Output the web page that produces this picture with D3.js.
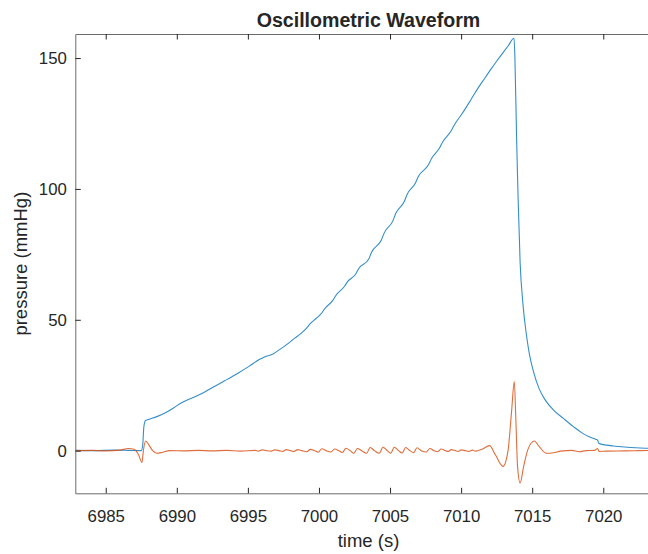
<!DOCTYPE html>
<html>
<head>
<meta charset="utf-8">
<script src="https://cdn.jsdelivr.net/npm/d3@7"></script>
<style>
  body { margin: 0; background: #fff; }
  text { font-family: Arial, "Liberation Sans", Helvetica, sans-serif; fill: #262626; }
</style>
</head>
<body>
<script>
var width = 648;
var height = 554;
var margin = {top: 34, left: 75.3, right: -13.7, bottom: 60.7};
var w = width - margin.left - margin.right;
var h = height - margin.top - margin.bottom;

// cuff pressure (blue)
var cuffTime = [6982.9, 6984.2, 6985.6, 6986.6, 6987.5, 6987.6, 6987.68, 6987.8, 6988.0, 6988.6,
  6989.2, 6989.8, 6990.3, 6990.7, 6991.2, 6991.9, 6992.6, 6993.4, 6994.3, 6995.1,
  6995.8, 6996.2, 6996.7, 6997.2, 6997.7, 6998.3, 6998.7, 6999.1, 6999.4, 6999.8,
  7000.2, 7000.4, 7001.0, 7001.2, 7001.8, 7002.0, 7002.6, 7002.8, 7003.5, 7003.7,
  7004.4, 7004.6, 7005.2, 7005.4, 7006.0, 7006.2, 7006.8, 7007.0, 7007.7, 7007.9,
  7008.5, 7008.7, 7009.3, 7009.5, 7010.1, 7010.7, 7011.2, 7011.7, 7012.1, 7012.5,
  7012.9, 7013.3, 7013.72, 7013.78, 7013.9, 7014.0, 7014.15, 7014.35, 7014.6, 7014.8,
  7015.1, 7015.5, 7015.9, 7016.5, 7017.2, 7017.9, 7018.5, 7019.0, 7019.5, 7019.6,
  7019.68, 7020.0, 7020.7, 7021.5, 7022.3, 7023.1, 7024.1];
var cuffPressure = [0.1, 0.0, 0.2, 0.1, 0.0, 2, 9, 11.5, 11.9, 13.0,
  14.5, 16.4, 18.2, 19.3, 20.4, 22.2, 24.4, 26.8, 29.6, 32.3,
  34.8, 35.9, 36.7, 38.5, 40.4, 43.0, 44.6, 46.6, 48.6, 50.5,
  52.6, 54.2, 57.6, 59.4, 62.8, 64.5, 67.6, 69.6, 73.2, 75.8,
  80.6, 83.3, 87.8, 90.6, 95.2, 97.9, 102.4, 104.8, 109.2, 111.4,
  115.8, 117.9, 122.2, 124.25, 129.0, 134.2, 138.6, 142.6, 145.8, 148.8,
  151.7, 154.6, 157.6, 151, 120, 98, 72, 56, 44, 37,
  30, 23.5, 19.5, 15.5, 12.3, 9.2, 6.8, 5.3, 4.3, 4.0,
  2.8, 2.3, 1.8, 1.4, 1.1, 0.9, 0.7];

// oscillations (orange)
var oscTime = [6982.9, 6984.0, 6985.0, 6986.0, 6986.6, 6987.0, 6987.3, 6987.55, 6987.65, 6987.8,
  6988.0, 6988.3, 6988.6, 6989.0, 6989.5, 6990.5, 6991.5, 6992.5, 6993.5, 6994.5,
  6995.5, 6995.75, 6996.0, 6996.3, 6996.65, 6996.9, 6997.2, 6997.45, 6997.7, 6998.0,
  6998.25, 6998.5, 6998.8, 6999.15, 6999.4, 6999.7, 6999.95, 7000.2, 7000.5, 7000.85,
  7001.1, 7001.4, 7001.65, 7001.9, 7002.2, 7002.45, 7002.7, 7003.0, 7003.35, 7003.6,
  7003.9, 7004.25, 7004.5, 7004.8, 7005.05, 7005.3, 7005.6, 7005.85, 7006.1, 7006.4,
  7006.65, 7006.9, 7007.2, 7007.55, 7007.8, 7008.1, 7008.35, 7008.6, 7008.9, 7009.1,
  7009.3, 7009.6, 7009.8, 7010.0, 7010.3, 7010.55, 7010.8, 7011.0, 7011.5, 7012.0,
  7012.4, 7012.95, 7013.3, 7013.55, 7013.74, 7013.85, 7013.97, 7014.15, 7014.4, 7014.7,
  7015.15, 7015.5, 7016.0, 7016.5, 7017.0, 7017.8, 7018.3, 7018.8, 7019.4, 7019.6,
  7019.7, 7020.2, 7021.5, 7022.5, 7024.1];
var oscValue = [0.0, 0.1, -0.1, 0.2, 0.8, 0.5, -1.5, -4.5, 0.0, 3.7,
  2.5, 0.0, -1.0, -0.6, 0.0, -0.1, 0.1, -0.1, 0.1, -0.2,
  0.1, -0.2, 0.3, 0.0, -0.2, 0.3, 0.0, -0.3, 0.4, 0.0,
  -0.3, 0.4, 0.0, -0.4, 0.5, 0.0, -0.6, 0.7, 0.0, -0.5,
  0.6, 0.0, -0.7, 0.9, 0.0, -1.0, 0.8, 0.0, -1.0, 1.2,
  0.0, -1.0, 1.3, 0.0, -1.0, 1.3, 0.0, -0.9, 1.2, 0.0,
  -0.8, 1.1, 0.0, -0.5, 0.8, 0.0, -0.4, 0.6, 0.0, -0.3,
  0.4, 0.0, -0.3, 0.3, 0.0, -0.3, 0.2, -0.2, 0.6, 1.9,
  -1.5, -6.0, 0.0, 15, 26.4, 12, -6, -12.3, -6, 0.5,
  3.7, 1.5, -1.0, -0.8, -0.2, 0.1, -0.4, 0.0, 0.1, 0.8,
  -0.3, -0.2, -0.1, 0.0, 0.1];

var xTicks = [6985, 6990, 6995, 7000, 7005, 7010, 7015, 7020];
var yTicks = [0, 50, 100, 150];

var svg = d3.select("body").append("svg")
  .attr("width", width)
  .attr("height", height)
  .append("g")
  .attr("transform", "translate(" + margin.left + "," + margin.top + ")");

var x = d3.scaleLinear().domain([6982.86, 7024.11]).range([0, w]);
var y = d3.scaleLinear().domain([-16.3, 159.2]).range([h, 0]);

svg.append("clipPath").attr("id", "clip")
  .append("rect").attr("width", w).attr("height", h);

var line = d3.line()
  .x(function(d) { return x(d[0]); })
  .y(function(d) { return y(d[1]); })
  .curve(d3.curveMonotoneX);

var cuff = cuffTime.map(function(t, i) { return [t, cuffPressure[i]]; });
var osc = oscTime.map(function(t, i) { return [t, oscValue[i]]; });

svg.append("path")
  .datum(cuff)
  .attr("clip-path", "url(#clip)")
  .attr("fill", "none")
  .attr("stroke", "#0072BD")
  .attr("stroke-opacity", 0.8)
  .attr("stroke-width", 1.1)
  .attr("d", line);

svg.append("path")
  .datum(osc)
  .attr("clip-path", "url(#clip)")
  .attr("fill", "none")
  .attr("stroke", "#D95319")
  .attr("stroke-opacity", 0.85)
  .attr("stroke-width", 1.1)
  .attr("d", line);

function styleAxis(g) {
  g.select(".domain").attr("stroke", "#6b6b6b").attr("stroke-width", 1);
  g.selectAll(".tick line").attr("stroke", "#262626");
  g.selectAll(".tick text")
    .style("font-family", "Arial, 'Liberation Sans', Helvetica, sans-serif")
    .style("font-size", "16.8px")
    .attr("fill", "#262626");
}

svg.append("g")
  .attr("transform", "translate(0," + h + ")")
  .call(d3.axisBottom(x).tickValues(xTicks).tickFormat(d3.format("d"))
    .tickSizeInner(-5.5).tickSizeOuter(0).tickPadding(16.5))
  .call(styleAxis);

svg.append("g")
  .call(d3.axisTop(x).tickValues(xTicks).tickFormat("")
    .tickSizeInner(-5.5).tickSizeOuter(0))
  .call(styleAxis);

svg.append("g")
  .call(d3.axisLeft(y).tickValues(yTicks)
    .tickSizeInner(-5.5).tickSizeOuter(0).tickPadding(8.5))
  .call(styleAxis);

svg.append("g")
  .attr("transform", "translate(" + w + ",0)")
  .call(d3.axisRight(y).tickValues(yTicks).tickFormat("")
    .tickSizeInner(-5.5).tickSizeOuter(0))
  .call(styleAxis);

svg.append("text")
  .attr("x", w / 2)
  .attr("y", -7.5)
  .attr("text-anchor", "middle")
  .style("font-size", "19.6px")
  .style("font-weight", "bold")
  .attr("fill", "#000")
  .text("Oscillometric Waveform");

svg.append("text")
  .attr("x", w / 2)
  .attr("y", h + 53.5)
  .attr("text-anchor", "middle")
  .style("font-size", "18.5px")
  .text("time (s)");

svg.append("text")
  .attr("transform", "translate(" + (-48) + "," + (h / 2) + ") rotate(-90)")
  .attr("text-anchor", "middle")
  .style("font-size", "18.5px")
  .text("pressure (mmHg)");
</script>
</body>
</html>
